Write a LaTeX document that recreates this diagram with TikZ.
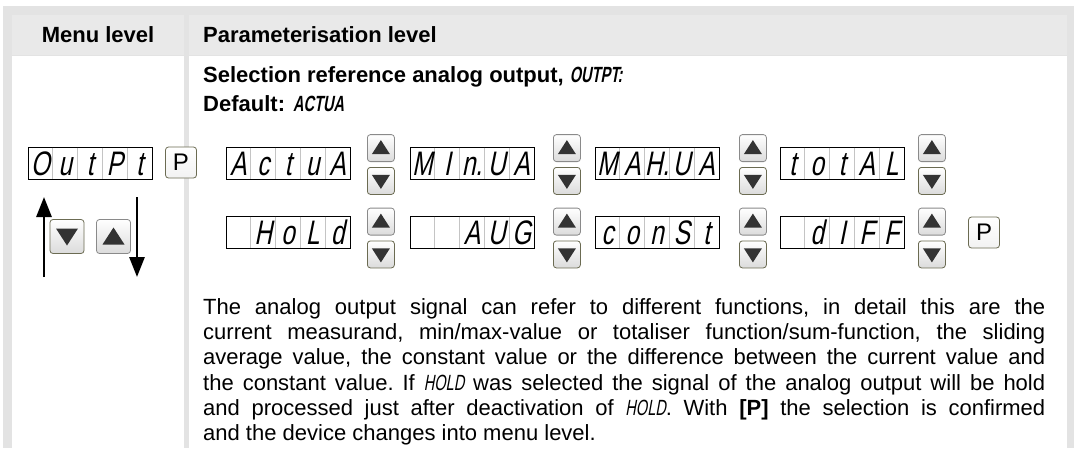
\documentclass[tikz,border=0pt]{standalone}
\usepackage{fontspec}
\setmainfont{Liberation Sans}
\newfontfamily\segfont[FakeSlant=0.2,FakeStretch=0.72]{Liberation Sans}
\newfontfamily\seginline[FakeSlant=0.18,FakeStretch=0.66]{Liberation Sans}
\usetikzlibrary{arrows.meta,calc}

\definecolor{framegrey}{HTML}{E3E3E3}
\definecolor{headgrey}{HTML}{E9E9E9}
\definecolor{cellgrey}{HTML}{C4C4C4}
\definecolor{keyedge}{HTML}{8A8A8A}
\definecolor{keyolive}{HTML}{6B6B52}
\definecolor{keymark}{HTML}{333333}

\newcommand{\segtxt}[1]{{\seginline\fontsize{22}{22}\selectfont #1}}

% seven segment display: name, left x, centre y, five characters
\newcommand{\segdisp}[4]{%
  \node[dispbox, anchor=west] (#1) at (#2,#3) {};
  \foreach \k in {1,...,4}
    \draw[celline] ($(#1.north west)+(\k*24.8,0.6)$) -- ($(#1.south west)+(\k*24.8,-0.6)$);
  \foreach \ch [count=\i] in {#4}
    \node[segchar] at ($(#1.west)+(\i*24.8-12.4,12)$) {\ch};
}

% pair of up/down keys: name, left x, centre y
\newcommand{\updown}[3]{%
  \node[key, anchor=south west] (#1u) at (#2,#3-2.5) {};
  \node[keydown, anchor=north west] (#1d) at (#2,#3+2.5) {};
  \fill[keymark] ($(#1u.center)+(-9,6)$) -- ++(18,0) -- ++(-9,-14) -- cycle;
  \fill[keymark] ($(#1d.center)+(-9,-6)$) -- ++(18,0) -- ++(-9,14) -- cycle;
}

\tikzset{
  dispbox/.style={draw=black, line width=0.9pt, minimum width=124pt, minimum height=32pt, inner sep=0pt},
  celline/.style={cellgrey, line width=0.7pt},
  segchar/.style={font=\segfont\fontsize{34}{34}\selectfont, inner sep=0pt, anchor=base},
  key/.style={draw=keyedge, rounded corners=3pt, top color=white, bottom color=gray!28, minimum size=27pt, inner sep=0pt, line width=0.8pt},
  keydown/.style={key, draw=keyolive},
  pkey/.style={draw=keyolive, rounded corners=3pt, top color=white, bottom color=gray!10, minimum width=31pt, minimum height=31pt, inner sep=0pt, font=\fontsize{24}{24}\selectfont, line width=0.8pt},
  headtext/.style={font=\bfseries\fontsize{22}{26}\selectfont, inner sep=0pt},
  bodytext/.style={font=\fontsize{22}{25.3}\selectfont, inner sep=0pt, anchor=west},
  bigarrow/.style={line width=2.8pt, -{Triangle[width=15pt,length=20pt]}},
}

\begin{document}
\begin{tikzpicture}[x=1pt,y=-1pt]
  \useasboundingbox (0,0) rectangle (1074,448);
  % Table frame
  \fill[framegrey] (3,6) rectangle (1074,448);
  \fill[headgrey] (12,15) rectangle (184,55);
  \fill[headgrey] (189,15) rectangle (1067,55);
  \fill[white] (12,56) rectangle (184,448);
  \fill[white] (189,56) rectangle (1067,448);
  % Header
  \node[headtext] (hmenu) at (98,35) {Menu level};
  \node[headtext, anchor=west] (hparam) at (203,35) {Parameterisation level};
  % Title lines
  \node[bodytext, font=\bfseries\fontsize{22}{26}\selectfont] (title) at (203,77)
    {Selection reference analog output, \segtxt{OUTPT:}};
  \node[bodytext, font=\bfseries\fontsize{22}{26}\selectfont] (default) at (203,104)
    {Default: \segtxt{ACTUA}};
  % Menu level
  \segdisp{outpt}{28}{163.5}{O,u,t,P,t}
  \node[pkey] (pmenu) at (181,162.5) {P};
  \node[keydown, minimum size=34pt] (lkdown) at (67,236.5) {};
  \node[key, minimum size=34pt] (lkup) at (113.5,236.5) {};
  \fill[keymark] ($(lkdown.center)+(-11,-8)$) -- ++(22,0) -- ++(-11,17) -- cycle;
  \fill[keymark] ($(lkup.center)+(-11,8)$) -- ++(22,0) -- ++(-11,-17) -- cycle;
  \coordinate (upfoot) at (44,277);
  \coordinate (uptip) at (44,197);
  \coordinate (downfoot) at (137,197);
  \coordinate (downtip) at (137,277);
  \draw[bigarrow] (upfoot) -- (uptip);
  \draw[bigarrow] (downfoot) -- (downtip);
  % Parameterisation level, first row
  \segdisp{actua}{226}{163.5}{A,c,t,u,A}
  \updown{ka}{367}{164.5}
  \segdisp{minua}{410}{163.5}{M,I,n.,U,A}
  \updown{kb}{553}{164.5}
  \segdisp{maxua}{595}{163.5}{M,A,H.,U,A}
  \updown{kc}{739}{164.5}
  \segdisp{total}{780}{163.5}{t,o,t,A,L}
  \updown{kd}{918}{164.5}
  % second row
  \segdisp{hold}{226}{232.5}{{},H,o,L,d}
  \updown{ke}{367}{238}
  \segdisp{avg}{410}{232.5}{{},{},A,U,G}
  \updown{kf}{553}{238}
  \segdisp{const}{595}{232.5}{c,o,n,S,t}
  \updown{kg}{739}{238}
  \segdisp{diff}{780}{232.5}{{},d,I,F,F}
  \updown{kh}{918}{238}
  \node[pkey] (pconf) at (984,232.5) {P};
  % Description
  \node[bodytext, anchor=north west, text width=842pt, align=justify] (para) at (203,298)
    {\frenchspacing The analog output signal can refer to different functions, in detail this are the\linebreak
     current measurand, min/max-value or totaliser function/sum-function, the sliding\linebreak
     average value, the constant value or the difference between the current value and\linebreak
     the constant value. If \segtxt{HOLD} was selected the signal of the analog output will be hold\linebreak
     and processed just after deactivation of \segtxt{HOLD}. With \textbf{[P]} the selection is confirmed\linebreak
     and the device changes into menu level.};
\end{tikzpicture}
\end{document}
